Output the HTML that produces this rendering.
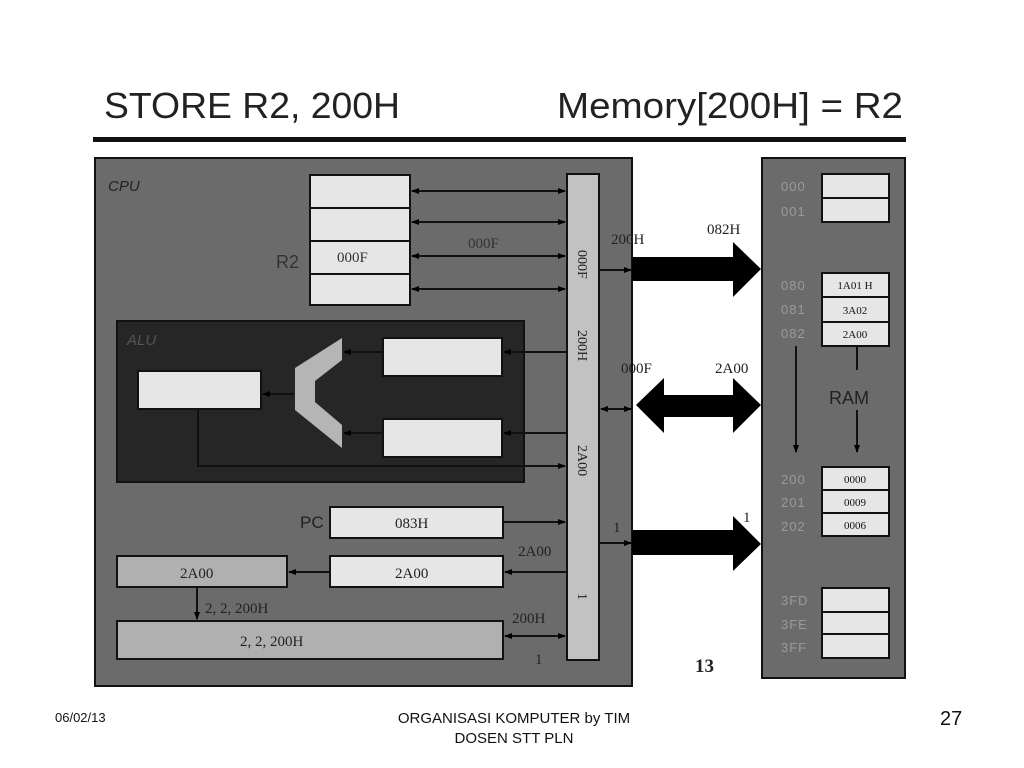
<!DOCTYPE html>
<html><head><meta charset="utf-8"><style>
html,body{margin:0;padding:0;background:#fff;width:1024px;height:768px;overflow:hidden}
svg{display:block}
</style></head><body>
<svg width="1024" height="768" viewBox="0 0 1024 768" xmlns="http://www.w3.org/2000/svg">
<defs>
<marker id="ah" markerWidth="8" markerHeight="8" refX="7" refY="4" orient="auto" markerUnits="userSpaceOnUse"><path d="M0,1 L8,4 L0,7 z" fill="#000"/></marker>
<marker id="as" markerWidth="8" markerHeight="8" refX="1" refY="4" orient="auto" markerUnits="userSpaceOnUse"><path d="M8,1 L0,4 L8,7 z" fill="#000"/></marker>
</defs>
<g font-family="Liberation Sans, sans-serif">
<text x="104" y="118" font-size="36" fill="#222" textLength="296" lengthAdjust="spacingAndGlyphs">STORE R2, 200H</text>
<text x="557" y="118" font-size="36" fill="#222" textLength="346" lengthAdjust="spacingAndGlyphs">Memory[200H] = R2</text>
</g>
<rect x="93" y="137" width="813" height="5" fill="#111"/>

<!-- CPU -->
<rect x="95" y="158" width="537" height="528" fill="#6b6b6b" stroke="#111" stroke-width="2"/>
<text x="108" y="191" font-family="Liberation Sans, sans-serif" font-style="italic" font-size="15" fill="#222">CPU</text>
<g fill="#e6e6e6" stroke="#111" stroke-width="2">
<rect x="310" y="175" width="100" height="33"/><rect x="310" y="208" width="100" height="33"/>
<rect x="310" y="241" width="100" height="33"/><rect x="310" y="274" width="100" height="31"/>
</g>
<g font-family="Liberation Serif, serif" fill="#333">
<text x="337" y="262" font-size="15">000F</text>
<text x="276" y="268" font-size="18" font-family="Liberation Sans, sans-serif">R2</text>
<text x="468" y="248" font-size="15">000F</text>
</g>
<!-- bus -->
<rect x="567" y="174" width="32" height="486" fill="#c2c2c2" stroke="#111" stroke-width="2"/>
<g font-family="Liberation Serif, serif" font-size="14" fill="#222">
<text transform="translate(578,250) rotate(90)">000F</text>
<text transform="translate(578,330) rotate(90)">200H</text>
<text transform="translate(578,445) rotate(90)">2A00</text>
<text transform="translate(578,593) rotate(90)">1</text>
</g>
<g stroke="#111" stroke-width="2" fill="none">
<line x1="412" y1="191" x2="565" y2="191" marker-start="url(#as)" marker-end="url(#ah)"/>
<line x1="412" y1="222" x2="565" y2="222" marker-start="url(#as)" marker-end="url(#ah)"/>
<line x1="412" y1="256" x2="565" y2="256" marker-start="url(#as)" marker-end="url(#ah)"/>
<line x1="412" y1="289" x2="565" y2="289" marker-start="url(#as)" marker-end="url(#ah)"/>
</g>
<!-- ALU -->
<rect x="117" y="321" width="407" height="161" fill="#262626" stroke="#111" stroke-width="2"/>
<text x="127" y="345" font-family="Liberation Sans, sans-serif" font-style="italic" font-size="15" fill="#555">ALU</text>
<g fill="#e6e6e6" stroke="#111" stroke-width="2">
<rect x="383" y="338" width="119" height="38"/><rect x="383" y="419" width="119" height="38"/>
<rect x="138" y="371" width="123" height="38"/>
</g>
<polygon points="342,338 342,360 315,381 315,402 342,425 342,448 295,410 295,368" fill="#b5b5b5"/>
<g stroke="#111" stroke-width="2" fill="none">
<line x1="566" y1="352" x2="504" y2="352" marker-end="url(#ah)"/>
<line x1="566" y1="433" x2="504" y2="433" marker-end="url(#ah)"/>
<line x1="382" y1="352" x2="344" y2="352" marker-end="url(#ah)"/>
<line x1="382" y1="433" x2="344" y2="433" marker-end="url(#ah)"/>
<line x1="294" y1="394" x2="263" y2="394" marker-end="url(#ah)"/>
<polyline points="198,410 198,466 565,466" marker-end="url(#ah)"/>
</g>
<!-- PC etc -->
<g fill="#e6e6e6" stroke="#111" stroke-width="2">
<rect x="330" y="507" width="173" height="31"/><rect x="330" y="556" width="173" height="31"/>
</g>
<g fill="#b0b0b0" stroke="#111" stroke-width="2">
<rect x="117" y="556" width="170" height="31"/><rect x="117" y="621" width="386" height="38"/>
</g>
<g font-family="Liberation Serif, serif" fill="#222" font-size="15">
<text x="300" y="528" font-size="17" font-family="Liberation Sans, sans-serif">PC</text>
<text x="395" y="528">083H</text>
<text x="395" y="578">2A00</text>
<text x="180" y="578">2A00</text>
<text x="205" y="613">2, 2, 200H</text>
<text x="240" y="646">2, 2, 200H</text>
<text x="518" y="556">2A00</text>
<text x="512" y="623">200H</text>
<text x="535" y="664">1</text>
</g>
<g stroke="#111" stroke-width="2" fill="none">
<line x1="504" y1="522" x2="565" y2="522" marker-end="url(#ah)"/>
<line x1="566" y1="572" x2="505" y2="572" marker-end="url(#ah)"/>
<line x1="329" y1="572" x2="289" y2="572" marker-end="url(#ah)"/>
<line x1="197" y1="588" x2="197" y2="619" marker-end="url(#ah)"/>
<line x1="505" y1="636" x2="565" y2="636" marker-start="url(#as)" marker-end="url(#ah)"/>
<line x1="600" y1="270" x2="631" y2="270" marker-end="url(#ah)"/>
<line x1="601" y1="409" x2="631" y2="409" marker-start="url(#as)" marker-end="url(#ah)"/>
<line x1="600" y1="543" x2="631" y2="543" marker-end="url(#ah)"/>
</g>
<!-- big arrows -->
<polygon points="632,257 733,257 733,242 761,269 733,297 733,281 632,281" fill="#000"/>
<polygon points="636,405 664,378 664,395 733,395 733,378 761,405 733,433 733,417 664,417 664,433" fill="#000"/>
<polygon points="632,530 733,530 733,516 761,544 733,571 733,555 632,555" fill="#000"/>
<g font-family="Liberation Serif, serif" fill="#222" font-size="15">
<text x="611" y="244">200H</text>
<text x="707" y="234">082H</text>
<text x="621" y="373">000F</text>
<text x="715" y="373">2A00</text>
<text x="613" y="532">1</text>
<text x="743" y="522">1</text>
<text x="695" y="672" font-size="19" font-weight="bold">13</text>
</g>
<!-- memory -->
<rect x="762" y="158" width="143" height="520" fill="#6b6b6b" stroke="#111" stroke-width="2"/>
<g fill="#e6e6e6" stroke="#111" stroke-width="2">
<rect x="822" y="174" width="67" height="24"/><rect x="822" y="198" width="67" height="24"/>
<rect x="822" y="273" width="67" height="24"/><rect x="822" y="297" width="67" height="25"/><rect x="822" y="322" width="67" height="24"/>
<rect x="822" y="467" width="67" height="23"/><rect x="822" y="490" width="67" height="23"/><rect x="822" y="513" width="67" height="23"/>
<rect x="822" y="588" width="67" height="24"/><rect x="822" y="612" width="67" height="22"/><rect x="822" y="634" width="67" height="24"/>
</g>
<g font-family="Liberation Serif, serif" fill="#111" font-size="11" text-anchor="middle">
<text x="855" y="289">1A01 H</text><text x="855" y="314">3A02</text><text x="855" y="338">2A00</text>
<text x="855" y="483">0000</text><text x="855" y="506">0009</text><text x="855" y="529">0006</text>
</g>
<g font-family="Liberation Sans, sans-serif" fill="#9a9a9a" font-size="13" letter-spacing="1">
<text x="781" y="191">000</text><text x="781" y="216">001</text>
<text x="781" y="290">080</text><text x="781" y="314">081</text><text x="781" y="338">082</text>
<text x="781" y="484">200</text><text x="781" y="507">201</text><text x="781" y="531">202</text>
<text x="781" y="605">3FD</text><text x="781" y="629">3FE</text><text x="781" y="652">3FF</text>
</g>
<text x="829" y="404" font-family="Liberation Sans, sans-serif" font-size="18" fill="#222">RAM</text>
<g stroke="#111" stroke-width="2" fill="none">
<line x1="796" y1="346" x2="796" y2="452" marker-end="url(#ah)"/>
<line x1="857" y1="346" x2="857" y2="370"/>
<line x1="857" y1="410" x2="857" y2="452" marker-end="url(#ah)"/>
</g>
<!-- footer -->
<g font-family="Liberation Sans, sans-serif" fill="#111">
<text x="55" y="722" font-size="13">06/02/13</text>
<text x="514" y="723" font-size="15" text-anchor="middle">ORGANISASI KOMPUTER by TIM</text>
<text x="514" y="743" font-size="15" text-anchor="middle">DOSEN STT PLN</text>
<text x="940" y="725" font-size="20">27</text>
</g>
</svg>
</body></html>
